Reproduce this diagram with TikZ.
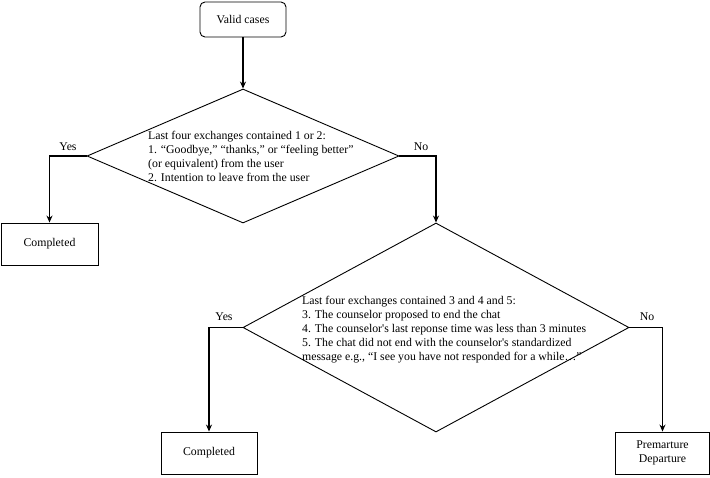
\documentclass[tikz,border=0pt]{standalone}
\usepackage{fontspec}
\setmainfont{Liberation Serif}
\usetikzlibrary{shapes.geometric,arrows.meta}
\begin{document}
\begin{tikzpicture}[x=1pt,y=-1pt,
  every node/.style={font=\fontsize{11.8}{14}\selectfont},
  box/.style={draw,line width=0.9pt,inner sep=0pt,align=center},
  dia/.style={draw,line width=0.9pt,diamond,inner sep=0pt},
  txt/.style={inner sep=0pt,align=left,anchor=north west},
  arr/.style={line width=1.3pt,-{Stealth[length=7pt,width=6pt]}},
  lab/.style={inner sep=0pt}]
\useasboundingbox (0,0) rectangle (710,477);
\node[box,rounded corners=5pt,minimum width=86pt,minimum height=35pt] (valid) at (243,19.5) {Valid cases};
\node[dia,minimum width=312pt,minimum height=134pt] (d1) at (243,156) {};
\node[txt] (t1) at (148,130.5) {Last four exchanges contained 1 or 2:\\
1. “Goodbye,” “thanks,” or “feeling better”\\
(or equivalent) from the user\\
2. Intention to leave from the user};
\node[box,minimum width=97pt,minimum height=42pt] (c1) at (49.5,244) {Completed};
\node[dia,minimum width=386pt,minimum height=209pt] (d2) at (436,327.5) {};
\node[txt] (t2) at (302,295.5) {Last four exchanges contained 3 and 4 and 5:\\
3. The counselor proposed to end the chat\\
4. The counselor\textquotesingle s last reponse time was less than 3 minutes\\
5. The chat did not end with the counselor\textquotesingle s standardized\\
message e.g., “I see you have not responded for a while…”};
\node[box,minimum width=96pt,minimum height=42pt] (c2) at (209,453) {Completed};
\node[box,minimum width=94pt,minimum height=42pt] (pd) at (662.5,453) {Premarture\\Departure};
\draw[arr] (valid.south) -- (d1.north);
\draw[arr] (d1.west) -| (c1.north);
\draw[arr] (d1.east) -| (d2.north);
\draw[arr] (d2.west) -| (c2.north);
\draw[arr] (d2.east) -| (pd.north);
\node[lab] (y1) at (68,147) {Yes};
\node[lab] (n1) at (421,147) {No};
\node[lab] (y2) at (224,317) {Yes};
\node[lab] (n2) at (647,317) {No};
\end{tikzpicture}
\end{document}
